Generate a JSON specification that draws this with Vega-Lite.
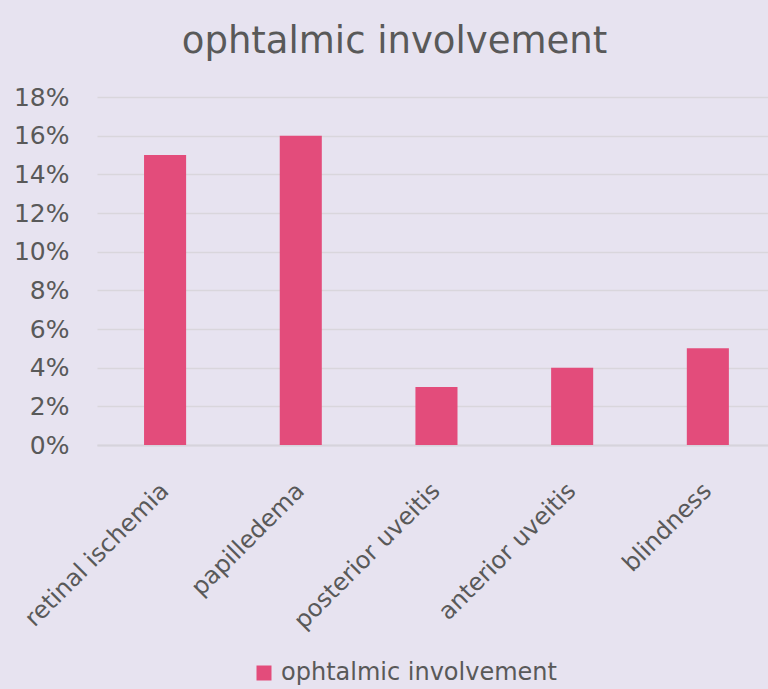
{
  "$schema": "https://vega.github.io/schema/vega-lite/v6.json",
  "autosize": "none",
  "width": 671,
  "height": 348,
  "padding": {"left": 97, "top": 97, "right": 0, "bottom": 244},
  "background": "#e7e3f0",
  "title": {
    "text": "ophtalmic involvement",
    "font": "DejaVu Sans",
    "fontSize": 37,
    "fontWeight": "normal",
    "color": "#595959",
    "anchor": "middle",
    "frame": "group",
    "dx": -38,
    "offset": 24
  },
  "data": {
    "values": [
      {"category": "retinal ischemia", "value": 0.15, "series": "ophtalmic involvement"},
      {"category": "papilledema", "value": 0.16, "series": "ophtalmic involvement"},
      {"category": "posterior uveitis", "value": 0.03, "series": "ophtalmic involvement"},
      {"category": "anterior uveitis", "value": 0.04, "series": "ophtalmic involvement"},
      {"category": "blindness", "value": 0.05, "series": "ophtalmic involvement"}
    ]
  },
  "mark": {"type": "bar"},
  "encoding": {
    "x": {
      "field": "category",
      "type": "nominal",
      "sort": null,
      "scale": {"paddingInner": 0.69, "paddingOuter": 0.3175, "align": 0.546},
      "axis": {
        "title": null,
        "labelAngle": -45,
        "labelAlign": "right",
        "labelBaseline": "middle",
        "labelFont": "DejaVu Sans",
        "labelFontSize": 24,
        "labelColor": "#595959",
        "labelPadding": 42,
        "labelLimit": 300,
        "ticks": false,
        "domain": true,
        "domainColor": "#d6d3dc",
        "domainWidth": 2
      }
    },
    "y": {
      "field": "value",
      "type": "quantitative",
      "scale": {"domain": [0, 0.18], "nice": false},
      "axis": {
        "title": null,
        "format": ".0%",
        "values": [0, 0.02, 0.04, 0.06, 0.08, 0.1, 0.12, 0.14, 0.16, 0.18],
        "labelFont": "DejaVu Sans",
        "labelFontSize": 25,
        "labelColor": "#595959",
        "labelPadding": 28,
        "ticks": false,
        "domain": false,
        "grid": true,
        "gridColor": "#d9d6dc",
        "gridWidth": 1.5
      }
    },
    "color": {
      "field": "series",
      "type": "nominal",
      "scale": {"range": ["#e34c7b"]},
      "legend": {
        "title": null,
        "orient": "none",
        "legendX": 155,
        "legendY": 564,
        "symbolType": "square",
        "symbolSize": 225,
        "symbolStrokeWidth": 0,
        "labelFont": "DejaVu Sans",
        "labelFontSize": 24,
        "labelColor": "#595959",
        "labelOffset": 5,
        "labelLimit": 400
      }
    }
  },
  "config": {"view": {"stroke": null}}
}
